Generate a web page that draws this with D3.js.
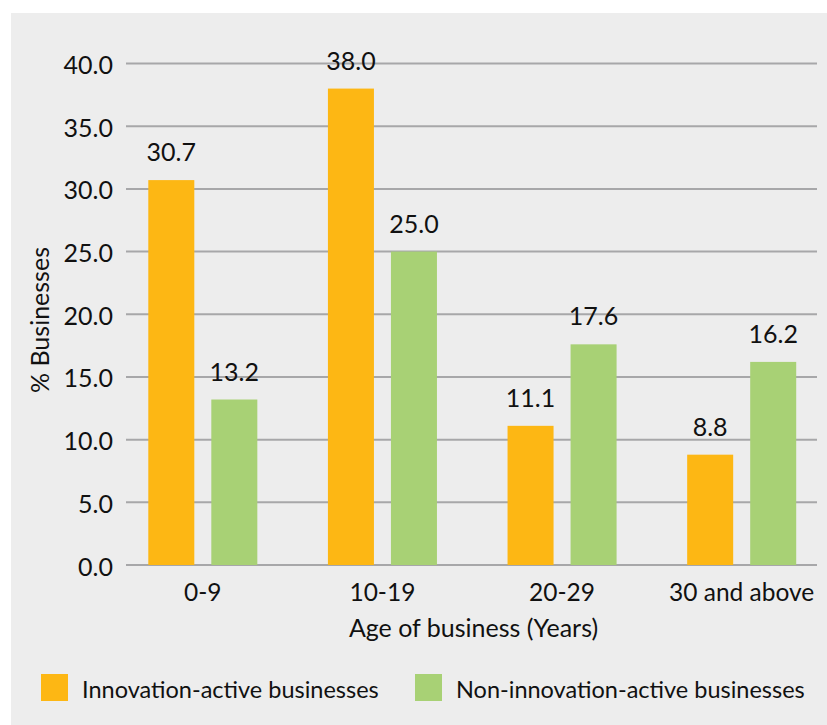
<!DOCTYPE html>
<html>
<head>
<meta charset="utf-8">
<script src="https://cdn.jsdelivr.net/npm/d3@7"></script>
<style>
  html, body { margin: 0; padding: 0; background: #ffffff; }
  svg { display: block; }
  text { font-family: Lato, "Noto Sans", sans-serif; fill: #111111; }
</style>
</head>
<body>
<svg id="chart" width="827" height="725"></svg>
<script>
// Share of businesses by age band, split by innovation activity
const categories = ["0-9", "10-19", "20-29", "30 and above"];
const seriesNames = ["Innovation-active businesses", "Non-innovation-active businesses"];
const innovationActive = [30.7, 38.0, 11.1, 8.8];
const nonInnovationActive = [13.2, 25.0, 17.6, 16.2];
const yTicks = [0, 5, 10, 15, 20, 25, 30, 35, 40];
const seriesColors = ["#fdb714", "#a8d175"];

const seriesValues = [innovationActive, nonInnovationActive];
const rows = categories.map((c, i) => ({
  category: c,
  values: seriesNames.map((s, j) => ({ series: s, value: seriesValues[j][i] }))
}));

const svg = d3.select("#chart");
const W = 827, H = 725;

// panel background
svg.append("rect")
  .attr("x", 11).attr("y", 13)
  .attr("width", W - 11).attr("height", H - 13)
  .attr("fill", "#ededed");

const gridLeft = 126, gridRight = 817;

const y = d3.scaleLinear().domain([0, 40]).range([565, 63.5]);

const x0 = d3.scaleBand()
  .domain(categories)
  .range([113, 831.5])
  .paddingInner(0.393)
  .paddingOuter(0.1965);

const x1 = d3.scaleBand()
  .domain(seriesNames)
  .range([0, x0.bandwidth()])
  .paddingInner(0.27);

const color = d3.scaleOrdinal().domain(seriesNames).range(seriesColors);

// horizontal gridlines
svg.append("g")
  .selectAll("line")
  .data(yTicks)
  .join("line")
  .attr("x1", gridLeft).attr("x2", gridRight)
  .attr("y1", d => y(d)).attr("y2", d => y(d))
  .attr("stroke", "#a7a7a9")
  .attr("stroke-width", 2);

// y tick labels
svg.append("g")
  .selectAll("text")
  .data(yTicks)
  .join("text")
  .attr("x", 113)
  .attr("y", d => y(d))
  .attr("dy", "0.42em")
  .attr("text-anchor", "end")
  .attr("font-size", 25)
  .text(d => d.toFixed(1));

// bars
const groups = svg.append("g")
  .selectAll("g")
  .data(rows)
  .join("g")
  .attr("transform", d => `translate(${x0(d.category)},0)`);

groups.selectAll("rect")
  .data(d => d.values)
  .join("rect")
  .attr("x", d => x1(d.series))
  .attr("width", x1.bandwidth())
  .attr("y", d => y(d.value))
  .attr("height", d => y(0) - y(d.value))
  .attr("fill", d => color(d.series));

// value labels
groups.selectAll("text")
  .data(d => d.values)
  .join("text")
  .attr("x", d => x1(d.series) + x1.bandwidth() / 2)
  .attr("y", d => y(d.value) - 19)
  .attr("text-anchor", "middle")
  .attr("font-size", 25)
  .text(d => d.value.toFixed(1));

// category labels
svg.append("g")
  .selectAll("text")
  .data(categories)
  .join("text")
  .attr("x", d => x0(d) + x0.bandwidth() / 2)
  .attr("y", 601)
  .attr("text-anchor", "middle")
  .attr("font-size", 24.5)
  .text(d => d);

// axis titles
svg.append("text")
  .attr("x", 473.5)
  .attr("y", 637)
  .attr("text-anchor", "middle")
  .attr("font-size", 25)
  .text("Age of business (Years)");

svg.append("text")
  .attr("transform", "translate(49,320) rotate(-90)")
  .attr("text-anchor", "middle")
  .attr("font-size", 25)
  .text("% Businesses");

// legend
const legendX = [41, 415];
const legend = svg.append("g")
  .selectAll("g")
  .data(seriesNames)
  .join("g")
  .attr("transform", (d, i) => `translate(${legendX[i]},674)`);

legend.append("rect")
  .attr("width", 27).attr("height", 27)
  .attr("fill", d => color(d));

legend.append("text")
  .attr("x", 41)
  .attr("y", 24)
  .attr("font-size", 23.5)
  .text(d => d);
</script>
</body>
</html>
